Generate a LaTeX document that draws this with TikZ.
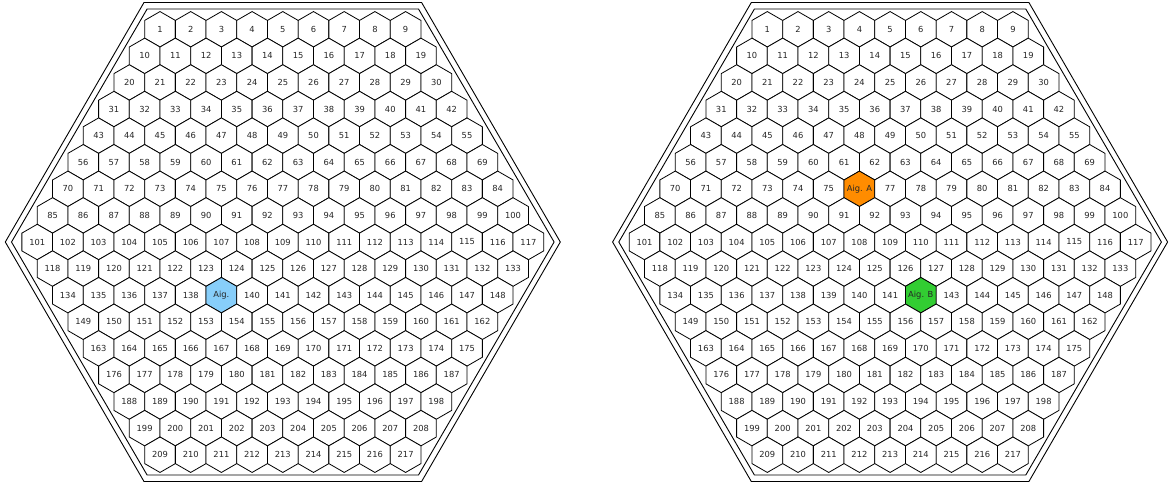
\documentclass[tikz,border=0pt]{standalone}
\usepackage{fontspec}
\setmainfont{DejaVu Sans}
\definecolor{aigblue}{RGB}{135,206,250}
\definecolor{aigorange}{RGB}{255,140,0}
\definecolor{aiggreen}{RGB}{50,205,50}
\newcounter{cellno}
\expandafter\def\csname specL-139\endcsname{{Aig.}{aigblue}}
\expandafter\def\csname specR-76\endcsname{{Aig. A}{aigorange}}
\expandafter\def\csname specR-142\endcsname{{Aig. B}{aiggreen}}
\tikzset{
  cellline/.style={draw=black, line width=0.8pt, line join=miter},
  celltext/.style={inner sep=0pt, text=black!85, font=\fontsize{8.33}{10}\selectfont},
  shroudline/.style={draw=black, line width=0.9pt, line join=miter},
}
\newcommand\hexpath{(\x,\y) +(90:17.725) -- +(150:17.725) -- +(210:17.725) -- +(270:17.725) -- +(330:17.725) -- +(30:17.725) -- cycle}
\newcommand\specialcell[3]{%
  \draw[cellline, fill=#2] \hexpath;
  \node[celltext] (#3) at (\x,\y) {#1};
}
\newcommand\plaincell[1]{%
  \draw[cellline, fill=white] \hexpath;
  \node[celltext] (#1) at (\x,\y) {\cellnum};
}
\newcommand\drawcore[2]{%
  \setcounter{cellno}{0}%
  \foreach \r in {1,...,17}{%
    \pgfmathtruncatemacro\n{17-abs(\r-9)}%
    \foreach \i in {1,...,\n}{%
      \stepcounter{cellno}%
      \pgfmathsetmacro\x{#1+(\i-(\n+1)/2)*30.7}%
      \pgfmathsetmacro\y{242+(\r-9)*26.59}%
      \edef\cellnum{\arabic{cellno}}%
      \ifcsname spec#2-\cellnum\endcsname
        \expandafter\expandafter\expandafter\specialcell\csname spec#2-\cellnum\endcsname{#2-\cellnum}%
      \else
        \plaincell{#2-\cellnum}%
      \fi
    }%
  }%
}
\newcommand\drawshroud[1]{%
  \draw[shroudline] ({#1-277.5},242) -- ({#1-138.8},2.5) -- ({#1+138.8},2.5) -- ({#1+277.5},242) -- ({#1+138.8},481.5) -- ({#1-138.8},481.5) -- cycle;
  \draw[shroudline] ({#1-271.3},242) -- ({#1-135.7},9) -- ({#1+135.7},9) -- ({#1+271.3},242) -- ({#1+135.7},475) -- ({#1-135.7},475) -- cycle;
}
\begin{document}
\begin{tikzpicture}[x=1pt,y=-1pt]
  \useasboundingbox[fill=white] (0,0) rectangle (1169,483);
  \drawshroud{282.8}
  \drawshroud{890.1}
  \drawcore{282.8}{L}
  \drawcore{890.1}{R}
\end{tikzpicture}
\end{document}
